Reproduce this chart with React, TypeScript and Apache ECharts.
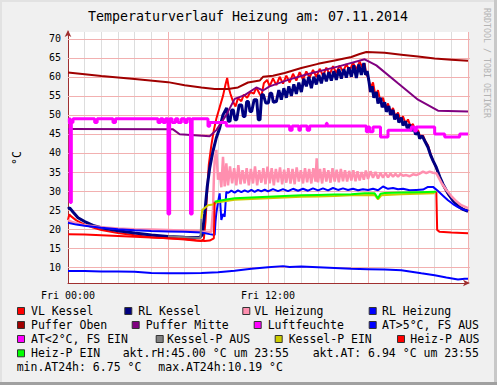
import React, { useEffect, useRef } from 'react';
import * as echarts from 'echarts';

const X_MIN = 0;
const X_MAX = 24;
const Y_MIN = 5.87;
const Y_MAX = 71.76;
const yTicks = [10, 15, 20, 25, 30, 35, 40, 45, 50, 55, 60, 65, 70];
const xTickLabels: Record<number, string> = { 0: 'Fri 00:00', 12: 'Fri 12:00' };

type P = [number, number];

const vlKessel: P[] = [
  [0, 22.4], [0.08, 23.9], [0.15, 23.5], [0.5, 22.3], [1, 21.2], [1.5, 20.4], [2, 19.8], [3, 19], [4, 18.4], [5, 17.9],
  [6, 17.6], [7, 17.3], [7.6, 17.0], [8.0, 16.9], [8.15, 17.4], [8.25, 22], [8.35, 30], [8.45, 37], [8.6, 42], [8.75, 46],
  [8.9, 49], [9.1, 52], [9.3, 55], [9.45, 58], [9.55, 59.7], [9.65, 57], [9.75, 55.5], [9.9, 53.5], [10.05, 52.2], [10.2, 54.4],
  [10.4, 53.6], [10.55, 55.3], [10.75, 54.5], [10.95, 56], [11.15, 55.6], [11.3, 57.2], [11.5, 55.5], [11.6, 54.8], [11.75, 58.3],
  [11.95, 59.2], [12.1, 57.5], [12.3, 59.6], [12.5, 57.8], [12.7, 60], [12.9, 58.2], [13.1, 60.3], [13.3, 58.5], [13.5, 60.8],
  [13.7, 59], [13.9, 61.2], [14.1, 59.3], [14.3, 61.4], [14.5, 59.8], [14.7, 61.8], [14.9, 60], [15.1, 62.1], [15.3, 60.3],
  [15.5, 62.4], [15.7, 60.6], [15.9, 62.8], [16.1, 61], [16.3, 63], [16.5, 61.3], [16.7, 63.3], [16.9, 61.6], [17.1, 63.7],
  [17.3, 62], [17.5, 64], [17.65, 62.5], [17.8, 63.5], [17.9, 60.5], [18.0, 60], [18.15, 57], [18.3, 58.5], [18.45, 55],
  [18.6, 56.5], [18.75, 53.3], [18.9, 54.5], [19.05, 51.8], [19.2, 53], [19.35, 50.5], [19.5, 51.8], [19.65, 49.5], [19.8, 50.6],
  [19.95, 48.6], [20.1, 49.6], [20.25, 47.8], [20.4, 48.8], [20.55, 47], [20.7, 47.6], [20.85, 45.2], [21.0, 46], [21.15, 44],
  [21.3, 44.6], [21.45, 43], [21.6, 42], [21.75, 39.8], [21.9, 38], [22.1, 36], [22.3, 33.5], [22.5, 31.5], [22.8, 29.2],
  [23.1, 27.6], [23.4, 26.3], [23.7, 25.3], [24, 24.7],
];

const rlKessel: P[] = [
  [0, 25.3], [0.1, 25.6], [0.3, 24.5], [0.6, 23], [1, 22], [1.5, 21], [2, 20.4], [3, 19.6], [4, 19], [5, 18.5], [6, 18.1],
  [7, 17.9], [7.9, 17.8], [8.05, 18.5], [8.2, 24], [8.35, 31], [8.5, 36], [8.7, 40.5], [8.9, 44], [9.1, 46.5], [9.3, 50],
  [9.52, 51.8], [9.62, 48.3], [9.72, 48.3], [9.82, 51.3], [9.92, 51.3], [10.02, 48.7], [10.12, 48.7], [10.27, 52.6],
  [10.42, 52.6], [10.52, 49.6], [10.62, 49.6], [10.72, 53.5], [10.82, 53.5], [10.92, 50.9], [11.02, 50.9], [11.17, 54],
  [11.32, 54], [11.42, 48.7], [11.52, 48.7], [11.62, 55.3], [11.72, 55.3], [11.87, 53.1], [12.02, 53.1], [12.12, 55.7],
  [12.22, 55.7], [12.32, 53.3], [12.5, 53.5], [12.65, 56.5], [12.8, 54], [12.95, 57], [13.1, 54.5], [13.25, 57.5], [13.4, 55],
  [13.55, 58], [13.7, 55.5], [13.85, 58.5], [14.0, 56], [14.15, 59.5], [14.3, 57.5], [14.45, 60], [14.6, 57], [14.75, 60],
  [14.9, 58], [15.05, 60.5], [15.2, 58.3], [15.35, 61], [15.5, 58.8], [15.65, 61.2], [15.8, 59], [15.95, 61.5], [16.1, 59.2],
  [16.25, 62], [16.4, 59.5], [16.55, 62], [16.7, 59.8], [16.85, 62.5], [17.0, 60], [17.15, 63], [17.3, 59.7], [17.45, 63.2],
  [17.6, 60.5], [17.75, 63.6], [17.85, 60.5], [17.95, 61.5], [18.05, 59], [18.15, 56], [18.25, 57.5], [18.35, 54.5],
  [18.5, 56], [18.6, 53], [18.75, 54.5], [18.85, 52], [19.0, 53.3], [19.1, 50.8], [19.25, 52.3], [19.35, 50], [19.5, 51.3],
  [19.6, 48.8], [19.75, 50.2], [19.85, 48], [20.0, 49.3], [20.1, 47.2], [20.25, 48.3], [20.35, 46.5], [20.5, 47.5],
  [20.6, 45.8], [20.75, 46.8], [20.85, 44.9], [21.0, 45.5], [21.1, 43.8], [21.25, 44.5], [21.4, 43.2], [21.6, 41.5],
  [21.75, 39.5], [21.9, 38], [22.1, 36.2], [22.3, 33.8], [22.5, 31.8], [22.8, 29.4], [23.1, 27.5], [23.4, 26],
  [23.7, 25.2], [24, 24.7],
];

const vlHeizung: P[] = [
  [0, 22.4], [0.3, 21.8], [1, 21], [2, 20.5], [3, 20.2], [4, 20], [5, 19.9], [6, 19.8], [7, 19.6], [8, 19.4], [8.6, 19.3],
  [8.7, 25], [8.75, 33], [8.8, 38], [8.9, 40.8], [9.0, 33], [9.1, 35], [9.2, 31], [9.3, 39], [9.4, 31.2], [9.5, 37.3],
  [9.6, 31.5], [9.72, 36.5], [9.85, 32], [9.97, 36], [10.1, 31.5], [10.22, 36.8], [10.35, 31.8], [10.47, 35.5], [10.6, 32],
  [10.72, 36], [10.85, 31.5], [10.97, 35.8], [11.1, 32], [11.22, 36.5], [11.35, 31.5], [11.47, 35.5], [11.6, 32.2],
  [11.72, 36], [11.85, 31.8], [11.97, 36.4], [12.1, 32], [12.22, 36], [12.35, 31.5], [12.47, 35.8], [12.6, 32.3],
  [12.72, 36.2], [12.85, 31.8], [12.97, 35.6], [13.1, 32.2], [13.22, 36], [13.35, 32], [13.47, 35.8], [13.6, 31.8],
  [13.72, 36.2], [13.85, 32.5], [13.97, 35.5], [14.1, 32], [14.22, 36], [14.35, 32.3], [14.47, 35.8], [14.6, 32],
  [14.72, 36], [14.85, 32.5], [14.92, 38.6], [15.0, 32.3], [15.12, 35.8], [15.25, 32], [15.37, 36], [15.5, 32.5],
  [15.62, 35.5], [15.75, 32.2], [15.87, 36], [16.0, 32.5], [16.12, 35.6], [16.25, 32.3], [16.37, 35.8], [16.5, 32.6],
  [16.62, 35.5], [16.75, 32.5], [16.87, 35.3], [17.0, 32.8], [17.12, 35.5], [17.25, 32.6], [17.37, 35.2], [17.5, 32.8],
  [17.62, 35], [17.75, 33], [17.87, 35.4], [18.0, 33.2], [18.15, 35.2], [18.3, 33.5], [18.45, 35], [18.6, 33.3],
  [18.75, 34.8], [18.9, 33.5], [19.05, 34.8], [19.2, 33.6], [19.35, 34.6], [19.5, 33.8], [19.65, 34.5], [19.8, 33.8],
  [19.95, 34.5], [20.1, 34], [20.3, 34.2], [20.5, 33.9], [20.7, 34.4], [20.9, 34.2], [21.1, 34.6], [21.3, 35.1],
  [21.5, 34.7], [21.7, 35.1], [21.9, 34.8], [22.1, 34.7], [22.4, 32.2], [22.7, 30.3], [23.0, 28.7], [23.3, 27.3],
  [23.6, 26.3], [24, 25.5],
];

const rlHeizung: P[] = [
  [0, 21.7], [0.5, 21.2], [1, 20.9], [2, 20.4], [3, 20], [4, 19.7], [5, 19.5], [6, 19.4], [7, 19.3], [8, 19.1], [8.5, 18.7],
  [8.8, 18.5], [8.85, 22], [8.9, 24.2], [9.0, 27], [9.1, 29.4], [9.2, 22.4], [9.3, 24], [9.4, 23.3], [9.5, 29.8],
  [9.6, 29.5], [9.8, 30.1], [10.0, 29.6], [10.2, 30.2], [10.4, 29.7], [10.6, 30.2], [10.8, 29.8], [11.0, 30.3], [11.2, 29.8],
  [11.4, 30.3], [11.6, 29.9], [11.8, 30.4], [12.0, 29.9], [12.3, 30.5], [12.6, 30], [12.9, 30.5], [13.2, 30.0], [13.5, 30.6],
  [13.8, 30.1], [14.1, 30.6], [14.4, 30.1], [14.7, 30.7], [15.0, 30.2], [15.3, 30.7], [15.6, 30.2], [15.9, 30.8],
  [16.2, 30.3], [16.5, 30.7], [16.8, 30.3], [17.1, 30.6], [17.4, 30.2], [17.7, 30.5], [18.0, 30.3], [18.3, 30.6],
  [18.6, 30.2], [18.9, 31.2], [19.2, 30.6], [19.5, 30.8], [19.8, 30.5], [20.1, 30.6], [20.5, 30.2], [20.9, 30.3],
  [21.3, 30.4], [21.6, 31.1], [21.9, 31.1], [22.2, 30], [22.5, 28.8], [22.8, 27.6], [23.1, 26.6], [23.4, 25.8],
  [23.7, 25.2], [24, 24.8],
];

const pufferOben: P[] = [
  [0, 61.1], [2, 60.2], [4, 59.4], [6, 58.6], [7, 57.8], [8, 57.2], [8.8, 56.8], [9.6, 56.8], [10.2, 57.2], [10.8, 58.5],
  [11.5, 59], [11.7, 60], [12.3, 60.3], [13, 61], [14, 62.3], [15, 63.4], [16, 64.3], [17, 65.2], [17.5, 66], [17.9, 66.5],
  [19, 66.3], [20, 65.8], [21, 65.3], [22, 64.8], [23, 64.5], [24, 64.2],
];

const pufferMitte: P[] = [
  [0, 46.3], [6.3, 46.2], [6.7, 44.9], [8.5, 44.4], [8.9, 46], [9.5, 50], [10, 54.2], [10.6, 55.2], [11.3, 57.2],
  [11.7, 56.4], [12.1, 57.5], [13.2, 59.2], [14.3, 60.6], [16.3, 62.8], [17.8, 64.6], [18.5, 63], [19.8, 58.3],
  [21, 54], [22.2, 51.1], [24, 50.9],
];

const luftfeuchte: P[] = [
  [0, 48], [0.08, 49], [0.13, 27], [0.2, 48], [0.3, 49], [1.6, 48], [1.75, 49], [2.7, 48], [2.85, 49], [5.4, 48],
  [5.55, 49], [5.7, 48], [5.85, 49], [6.0, 24], [6.1, 49], [6.25, 48], [6.45, 49], [6.6, 48], [6.8, 49], [7.0, 48],
  [7.15, 49], [7.35, 24], [7.45, 49], [8.4, 47], [8.5, 48], [9.5, 47.1], [13.3, 46], [13.45, 47.1], [13.85, 46],
  [13.95, 47.1], [14.35, 46], [14.5, 47.1], [15.5, 47.8], [15.55, 47.1], [17.9, 45.6], [18.0, 46.8], [18.1, 45.6],
  [18.3, 46.8], [18.75, 44.2], [19.2, 46], [20.6, 46.8], [20.8, 45.8], [20.9, 46.8], [22.0, 45], [22.6, 44.2],
  [23.5, 45], [24, 45],
];

const aussenTemp: P[] = [
  [0, 9], [1, 9], [2, 8.9], [3, 8.9], [4, 8.8], [5, 8.5], [6, 8.4], [7, 8.4], [8, 8.5], [9, 8.7], [10, 9.1], [11, 9.6],
  [12, 10], [12.9, 10.3], [13.3, 10.1], [14, 10.2], [15, 10], [16, 9.8], [17, 9.6], [18, 9.5], [19, 9.4], [20, 9.2],
  [20.6, 8.8], [21.2, 8.4], [22, 7.9], [22.7, 7.3], [23.4, 6.8], [23.8, 7.0], [24, 7.0],
];

const kesselPAus: P[] = [[6.0, 18.1], [7, 17.9], [7.95, 17.7], [8.0, 22.8]];

const kesselPEin: P[] = [
  [8.0, 22.8], [8.05, 25], [8.4, 26.3], [8.7, 26.5], [8.9, 27.0], [9.5, 27.4], [10, 27.7], [11, 27.9], [12, 28.1],
  [13, 28.3], [14, 28.5], [15, 28.6], [16, 28.7], [17, 28.9], [18.4, 29], [18.6, 27.8], [18.8, 28.9], [20, 29.2],
  [21, 29.3], [22, 29.4],
];

const heizPAusMorning: P[] = [
  [0, 18.7], [1, 18.6], [2, 18.4], [3, 18.2], [4, 18], [5, 17.8], [6, 17.6], [7, 17.4], [7.7, 17.1], [8.2, 16.9],
  [8.5, 17.0], [8.75, 17.6], [8.8, 27.2],
];

const heizPAusEvening: P[] = [[22.1, 29.8], [22.15, 19.8], [22.3, 19.3], [23, 19.1], [24, 18.9]];

const heizPEin: P[] = [
  [8.8, 27.2], [9.0, 27.4], [9.5, 27.8], [10, 28.1], [11, 28.3], [12, 28.5], [13, 28.7], [14, 28.9], [15, 29], [16, 29.1],
  [17, 29.2], [17.8, 29.4], [18.4, 29.4], [18.6, 28.1], [18.75, 29.3], [19, 29.5], [20, 29.6], [21, 29.7], [22.1, 29.8],
];

const legendRows = [
  { y: 311, items: [
    { bx: 17, tx: 31, color: '#FF0000', text: 'VL Kessel' },
    { bx: 124.3, tx: 138.3, color: '#000080', text: 'RL Kessel' },
    { bx: 242.3, tx: 254.3, color: '#FF8FAF', text: 'VL Heizung' },
    { bx: 368.7, tx: 382, color: '#0000FF', text: 'RL Heizung' },
  ] },
  { y: 325, items: [
    { bx: 17, tx: 31, color: '#A00000', text: 'Puffer Oben' },
    { bx: 131.7, tx: 145.7, color: '#800080', text: 'Puffer Mitte' },
    { bx: 253.7, tx: 267.7, color: '#FF00FF', text: 'Luftfeuchte' },
    { bx: 368.7, tx: 382, color: '#0000FF', text: 'AT>5°C, FS AUS' },
  ] },
  { y: 339, items: [
    { bx: 17, tx: 31, color: '#FF00FF', text: 'AT<2°C, FS EIN' },
    { bx: 155.7, tx: 167, color: '#808080', text: 'Kessel-P AUS' },
    { bx: 274.7, tx: 288.7, color: '#CCCC00', text: 'Kessel-P EIN' },
    { bx: 397, tx: 410.3, color: '#FF0000', text: 'Heiz-P AUS' },
  ] },
  { y: 353.3, items: [
    { bx: 17, tx: 31, color: '#00FF00', text: 'Heiz-P EIN' },
    { bx: -1, tx: 122.7, color: '', text: 'akt.rH:45.00 °C um 23:55' },
    { bx: -1, tx: 312.7, color: '', text: 'akt.AT: 6.94 °C um 23:55' },
  ] },
  { y: 367.3, items: [
    { bx: -1, tx: 16.7, color: '', text: 'min.AT24h: 6.75 °C' },
    { bx: -1, tx: 158.3, color: '', text: 'max.AT24h:10.19 °C' },
  ] },
];

const MONO = '"DejaVu Sans Mono", monospace';

function lineSeries(name: string, data: P[], color: string, width = 2, extra: any = {}) {
  return {
    name,
    type: 'line',
    data,
    showSymbol: false,
    symbol: 'none',
    lineStyle: { color, width },
    itemStyle: { color },
    silent: true,
    ...extra,
  };
}

export default function App() {
  const ref = useRef<HTMLDivElement>(null);
  useEffect(() => {
    if (!ref.current) return;
    const chart = echarts.init(ref.current, null, { renderer: 'svg' });

    const graphics: any[] = [
      { type: 'rect', shape: { x: 0, y: 0, width: 497, height: 2 }, style: { fill: '#E2E2E2' }, silent: true },
      { type: 'rect', shape: { x: 0, y: 0, width: 2, height: 385 }, style: { fill: '#E2E2E2' }, silent: true },
      { type: 'rect', shape: { x: 494, y: 0, width: 3, height: 385 }, style: { fill: '#C8C8C8' }, silent: true },
      { type: 'rect', shape: { x: 0, y: 382, width: 497, height: 3 }, style: { fill: '#A0A0A0' }, silent: true },
      {
        type: 'text', x: 248, y: 16.5, silent: true,
        style: { text: 'Temperaturverlauf Heizung am: 07.11.2014', fill: '#000', font: `13.3px ${MONO}`,
          textAlign: 'center', textVerticalAlign: 'middle', align: 'center', verticalAlign: 'middle' },
      },
      {
        type: 'text', x: 487, y: 8, rotation: -Math.PI / 2, silent: true,
        style: { text: 'RRDTOOL / TOBI OETIKER', fill: '#B4B4B4', font: `8.3px ${MONO}`,
          textAlign: 'left', textVerticalAlign: 'middle', align: 'left', verticalAlign: 'middle' },
      },
      {
        type: 'text', x: 17, y: 158, rotation: Math.PI / 2, silent: true,
        style: { text: '°C', fill: '#000', font: `11.5px ${MONO}`,
          textAlign: 'center', textVerticalAlign: 'middle', align: 'center', verticalAlign: 'middle' },
      },
    ];
    legendRows.forEach((row) => {
      row.items.forEach((it) => {
        if (it.bx >= 0) {
          graphics.push({
            type: 'rect', silent: true,
            shape: { x: it.bx + 0.5, y: row.y - 3.5, width: 7, height: 7 },
            style: { fill: it.color, stroke: '#333', lineWidth: 1 },
          });
        }
        graphics.push({
          type: 'text', x: it.tx, y: row.y, silent: true,
          style: { text: it.text, fill: '#000', font: `11.5px ${MONO}`,
            textAlign: 'left', textVerticalAlign: 'middle', align: 'left', verticalAlign: 'middle' },
        });
      });
    });

    const majorColor = '#F2B0B0';
    const minorColor = '#DDDDDD';
    const axisColor = '#A03030';

    const option: any = {
      animation: false,
      backgroundColor: '#F0F0F0',
      grid: { left: 68, top: 32, width: 400, height: 251, show: true, backgroundColor: '#FFFFFF', borderWidth: 0 },
      xAxis: {
        type: 'value', min: X_MIN, max: X_MAX, interval: 1,
        axisLine: { show: true, lineStyle: { color: axisColor, width: 1 }, symbol: ['none', 'arrow'], symbolSize: [5, 7], symbolOffset: [0, 2] },
        axisTick: { show: false },
        splitLine: { show: true, lineStyle: { width: 1, color: [majorColor, minorColor, minorColor, minorColor, minorColor, minorColor] } },
        axisLabel: {
          show: true, margin: 7, color: '#000', fontFamily: MONO, fontSize: 10,
          formatter: (v: number) => xTickLabels[Math.round(v)] ?? '',
        },
      },
      yAxis: {
        type: 'value', min: Y_MIN, max: Y_MAX,
        axisLine: { show: true, onZero: false, lineStyle: { color: axisColor, width: 1 }, symbol: ['none', 'arrow'], symbolSize: [5, 7], symbolOffset: [0, 2] },
        axisTick: { show: false },
        splitLine: { show: false },
        axisLabel: { show: false },
      },
      graphic: graphics,
      series: [
        {
          type: 'custom', z: 1, silent: true, clip: false,
          data: yTicks.map((v) => [X_MIN, v]),
          encode: { x: 0, y: 1 },
          renderItem: (params: any, api: any) => {
            const v = api.value(1);
            const p0 = api.coord([X_MIN, v]);
            const p1 = api.coord([X_MAX, v]);
            const yy = Math.round(p0[1]) + 0.5;
            return {
              type: 'group',
              children: [
                { type: 'line', shape: { x1: p0[0], y1: yy, x2: p1[0] + 2, y2: yy }, style: { stroke: majorColor, lineWidth: 1 } },
                {
                  type: 'text', x: p0[0] - 7, y: p0[1],
                  style: { text: String(v), fill: '#000', font: `10px ${MONO}`,
                    textAlign: 'right', textVerticalAlign: 'middle', align: 'right', verticalAlign: 'middle' },
                },
              ],
            };
          },
        },
        lineSeries('VL Kessel', vlKessel, '#FF0000', 2),
        lineSeries('RL Kessel', rlKessel, '#000080', 3),
        lineSeries('VL Heizung', vlHeizung, '#FF8FAF', 2.5),
        lineSeries('RL Heizung', rlHeizung, '#0000FF', 2),
        lineSeries('Puffer Oben', pufferOben, '#A00000', 2),
        lineSeries('Puffer Mitte', pufferMitte, '#800080', 2),
        lineSeries('Luftfeuchte', luftfeuchte, '#FF00FF', 3, { step: 'end' }),
        lineSeries('AT>5°C, FS AUS', aussenTemp, '#0000FF', 2),
        lineSeries('Kessel-P AUS', kesselPAus, '#808080', 2),
        lineSeries('Kessel-P EIN', kesselPEin, '#CCCC00', 2),
        lineSeries('Heiz-P AUS', heizPAusMorning, '#FF0000', 2),
        lineSeries('Heiz-P AUS', heizPAusEvening, '#FF0000', 2),
        lineSeries('Heiz-P EIN', heizPEin, '#00FF00', 2),
      ],
    };
    chart.setOption(option);
    return () => chart.dispose();
  }, []);

  return <div ref={ref} style={{ position: 'fixed', left: 0, top: 0, width: 497, height: 385 }} />;
}
